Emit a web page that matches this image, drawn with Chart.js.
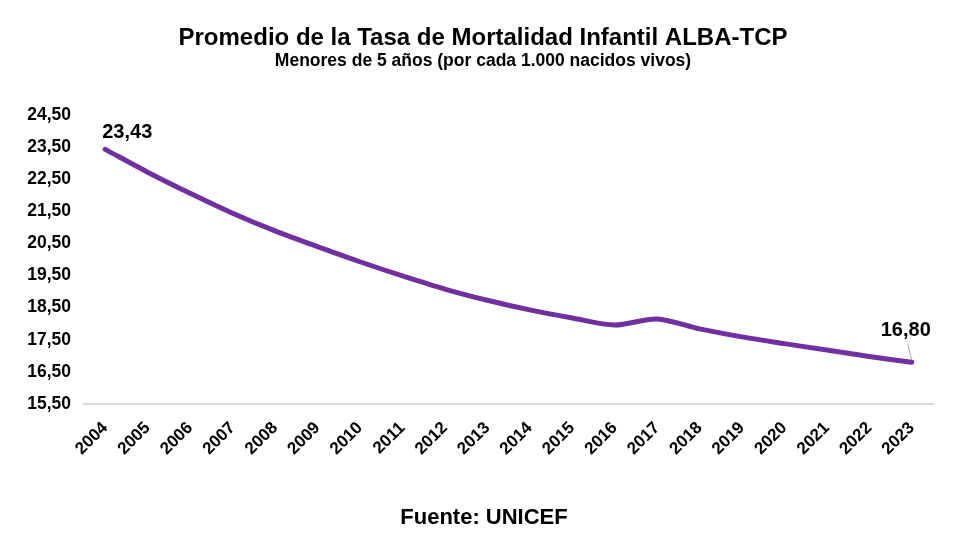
<!DOCTYPE html>
<html>
<head>
<meta charset="utf-8">
<script src="https://cdn.jsdelivr.net/npm/chart.js@4.4.1/dist/chart.umd.min.js"></script>
<style>
  html, body { margin: 0; padding: 0; background: #ffffff; }
  #wrap { width: 977px; height: 548px; position: relative; }
</style>
</head>
<body>
<div id="wrap"><canvas id="c" width="977" height="548"></canvas></div>
<script>
const titleText = "Promedio de la Tasa de Mortalidad Infantil ALBA-TCP";
const subtitleText = "Menores de 5 años (por cada 1.000 nacidos vivos)";
const sourceText = "Fuente: UNICEF";

const years = ["2004","2005","2006","2007","2008","2009","2010","2011","2012","2013",
               "2014","2015","2016","2017","2018","2019","2020","2021","2022","2023"];
const mortality = [23.43, 22.72, 22.06, 21.44, 20.89, 20.40, 19.93, 19.49, 19.08, 18.73,
                   18.43, 18.18, 17.96, 18.15, 17.84, 17.59, 17.38, 17.18, 16.98, 16.80];
const labelledIndices = [0, 19];

const yMin = 15.5, yMax = 24.5, yStep = 1;

const FONT = "'Liberation Sans', Arial, sans-serif";
const fmt = v => v.toFixed(2).replace('.', ',');

const textPlugin = {
  id: 'texts',
  afterDraw(chart) {
    const ctx = chart.ctx;
    ctx.save();
    ctx.fillStyle = '#000';
    ctx.textAlign = 'center';
    ctx.textBaseline = 'middle';
    ctx.font = "bold 24px " + FONT;
    ctx.fillText(titleText, 483, 38);
    ctx.font = "bold 17.5px " + FONT;
    ctx.fillText(subtitleText, 483, 61);
    ctx.font = "bold 22px " + FONT;
    ctx.fillText(sourceText, 484, 518);

    // data labels
    const meta = chart.getDatasetMeta(0);
    ctx.font = "bold 20px " + FONT;
    labelledIndices.forEach(i => {
      const p = meta.data[i];
      const txt = fmt(mortality[i]);
      if (i === 0) {
        ctx.textAlign = 'left';
        ctx.fillText(txt, p.x - 3, p.y - 17);
      } else {
        ctx.textAlign = 'center';
        ctx.strokeStyle = '#a6a6a6';
        ctx.lineWidth = 1;
        ctx.beginPath();
        ctx.moveTo(p.x - 4, p.y - 18);
        ctx.lineTo(p.x, p.y - 2);
        ctx.stroke();
        ctx.fillText(txt, p.x - 6, p.y - 32);
      }
    });
    ctx.restore();
  }
};

new Chart(document.getElementById('c'), {
  type: 'line',
  data: {
    labels: years,
    datasets: [{
      data: mortality,
      borderColor: '#7030A0',
      backgroundColor: '#7030A0',
      borderWidth: 5,
      pointRadius: 0,
      pointHoverRadius: 0,
      tension: 0.3,
      borderCapStyle: 'round',
      borderJoinStyle: 'round',
      fill: false
    }]
  },
  options: {
    responsive: false,
    animation: false,
    events: [],
    layout: { padding: { top: 115, left: 0, right: 44, bottom: 84 } },
    plugins: {
      legend: { display: false },
      title: { display: false },
      tooltip: { enabled: false }
    },
    scales: {
      x: {
        offset: true,
        grid: { display: false, drawTicks: false },
        border: { display: true, color: '#d9d9d9', width: 2 },
        ticks: {
          autoSkip: false,
          minRotation: 45,
          maxRotation: 45,
          padding: 14,
          color: '#000',
          font: { family: FONT, size: 17, weight: 'bold' }
        },
        afterFit(s) { s.height = 60; }
      },
      y: {
        min: yMin,
        max: yMax,
        grid: { display: false, drawTicks: false },
        border: { display: false },
        ticks: {
          stepSize: yStep,
          padding: 13,
          color: '#000',
          font: { family: FONT, size: 17.5, weight: 'bold' },
          callback: v => fmt(v)
        },
        afterFit(s) { s.width = 84; }
      }
    }
  },
  plugins: [textPlugin]
});
</script>
</body>
</html>
